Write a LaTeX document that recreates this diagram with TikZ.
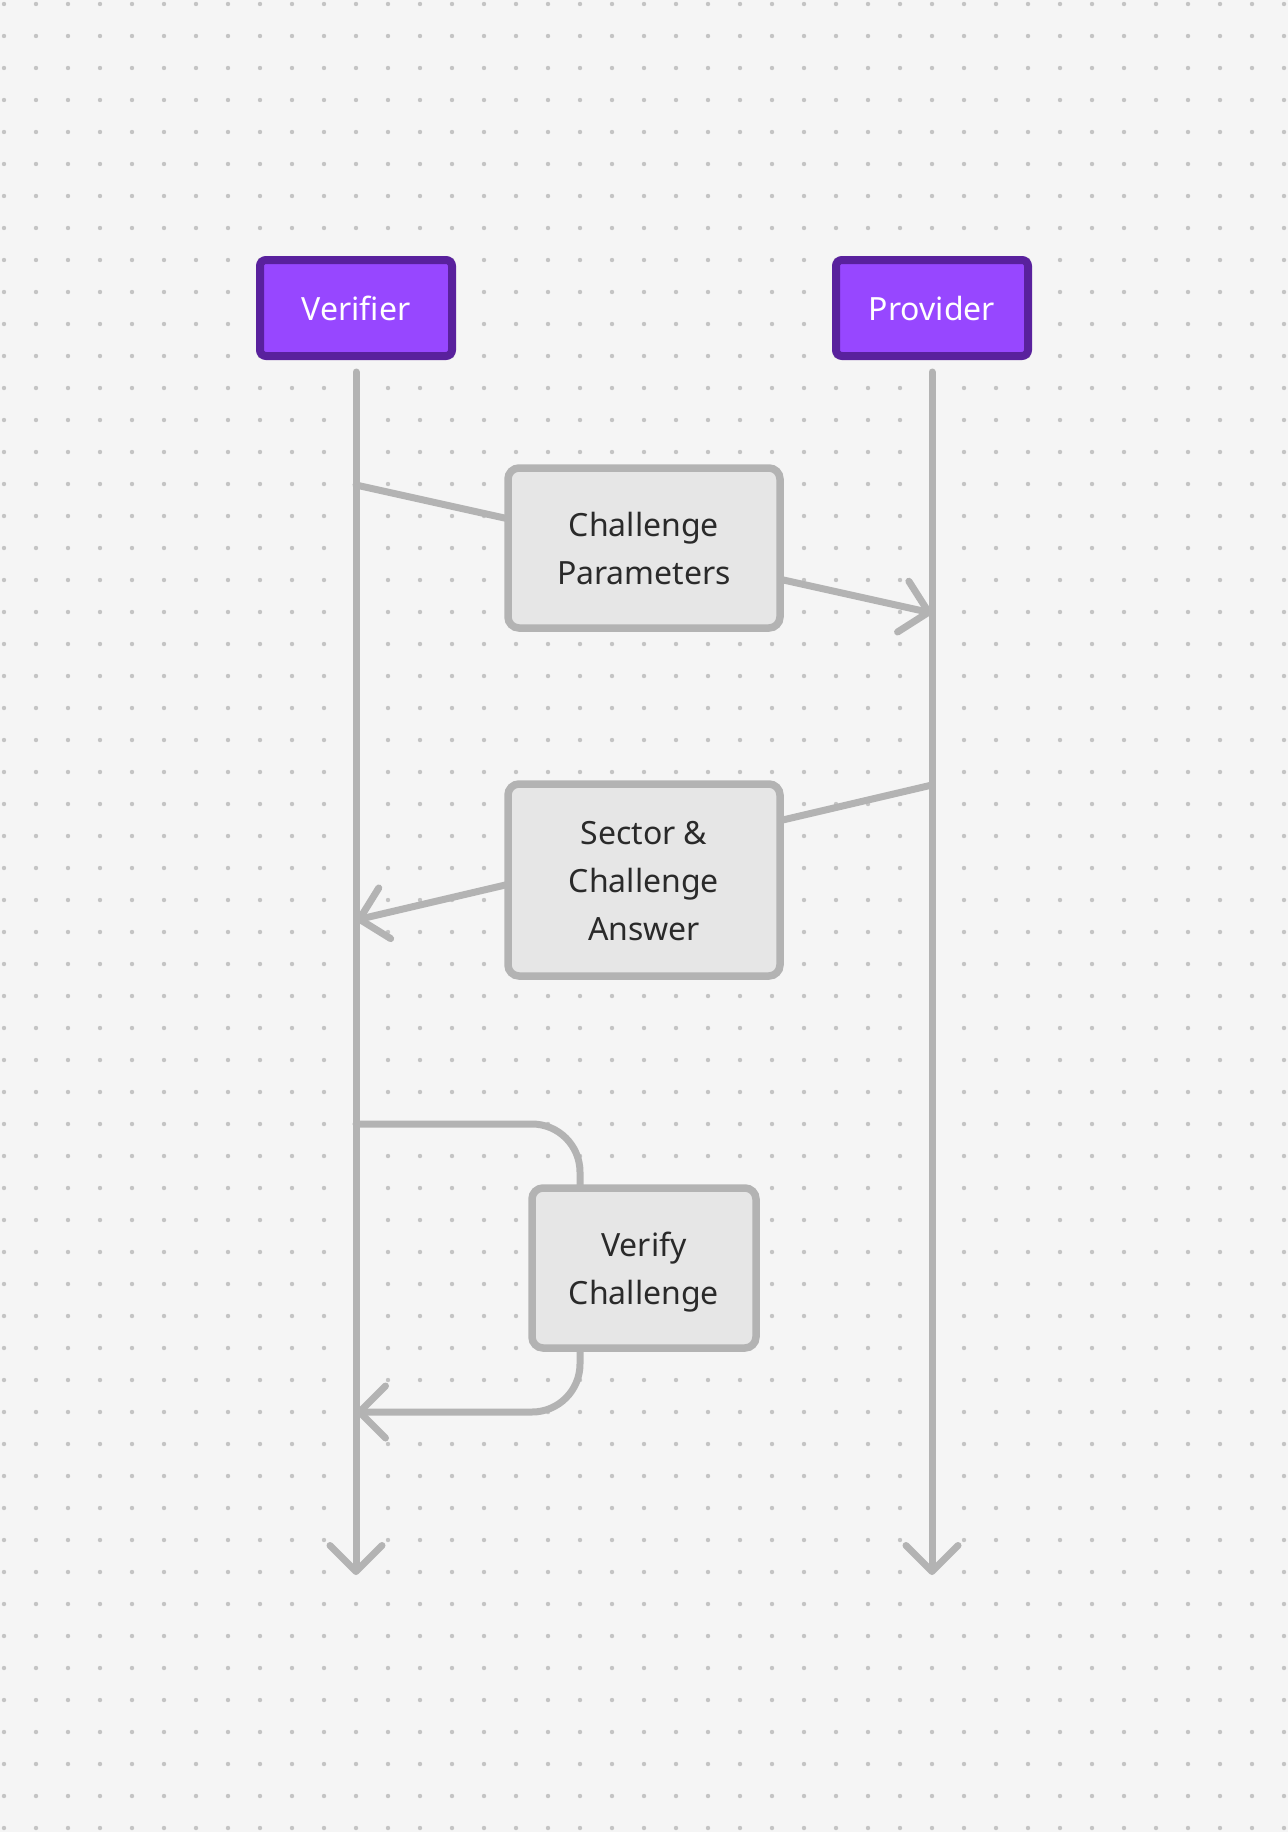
\documentclass[tikz,border=0pt]{standalone}
\usepackage{fontspec}
\setmainfont{Noto Sans}
\usetikzlibrary{arrows.meta}
\definecolor{bg}{HTML}{F5F5F5}
\definecolor{dotc}{HTML}{C4C4C4}
\definecolor{linec}{HTML}{B3B3B3}
\definecolor{boxfill}{HTML}{E6E6E6}
\definecolor{txtc}{HTML}{2A2A2A}
\definecolor{purfill}{HTML}{9747FF}
\definecolor{purline}{HTML}{59219D}
\newcommand\lnstrut{\rule[-12pt]{0pt}{48pt}}
\tikzset{
  flowline/.style={draw=linec, line width=7pt, line cap=round, line join=round},
  arrowend/.style={-{Straight Barb[length=26pt,width=52pt,line cap=round,line join=round]}},
  actor/.style={draw=purline, fill=purfill, line width=8pt, rounded corners=6pt,
    minimum width=192pt, minimum height=96pt, inner sep=0pt, text=white,
    font=\fontsize{32}{48}\selectfont},
  msgbox/.style={draw=linec, fill=boxfill, line width=7.5pt, rounded corners=11pt,
    minimum height=160pt, inner sep=0pt, text=txtc, align=center,
    font=\fontsize{32}{48}\selectfont},
}
\begin{document}
\begin{tikzpicture}[x=1pt, y=-1pt]
\fill[bg] (0,0) rectangle (1288,1832);
\useasboundingbox (0,0) rectangle (1288,1832);
\foreach \i in {0,...,40} {
  \foreach \j in {0,...,57} {
    \fill[dotc] ({4+32*\i},{4+32*\j}) circle (2.2pt);
  }
}
% actors
\node[actor] (ver) at (356,308) {\lnstrut Verifier};
\node[actor] (pro) at (932,308) {\lnstrut Provider};
% lifeline coordinates
\coordinate (vtop) at (356,372);
\coordinate (vbot) at (356,1575);
\coordinate (ptop) at (932,372);
\coordinate (pbot) at (932,1575);
\coordinate (v1) at (356,485);
\coordinate (p1) at (932,613);
\coordinate (p2) at (932,785);
\coordinate (v2) at (356,920);
\coordinate (v3) at (356,1124);
\coordinate (c3a) at (580,1124);
\coordinate (c3b) at (580,1412);
\coordinate (v4) at (356,1412);
% lifelines
\draw[flowline, arrowend] (vtop) -- (vbot);
\draw[flowline, arrowend] (ptop) -- (pbot);
% messages
\draw[flowline, arrowend] (v1) -- (p1);
\draw[flowline, arrowend] (p2) -- (v2);
\draw[flowline, arrowend, rounded corners=48pt] (v3) -- (c3a) -- (c3b) -- (v4);
% boxes
\node[msgbox, minimum width=272pt] (cp) at (644,548) {\lnstrut Challenge\\\lnstrut Parameters};
\node[msgbox, minimum width=272pt, minimum height=192pt] (sc) at (644,880) {\lnstrut Sector \&\\\lnstrut Challenge\\\lnstrut Answer};
\node[msgbox, minimum width=224pt] (vc) at (644,1268) {\lnstrut Verify\\\lnstrut Challenge};
\end{tikzpicture}
\end{document}
